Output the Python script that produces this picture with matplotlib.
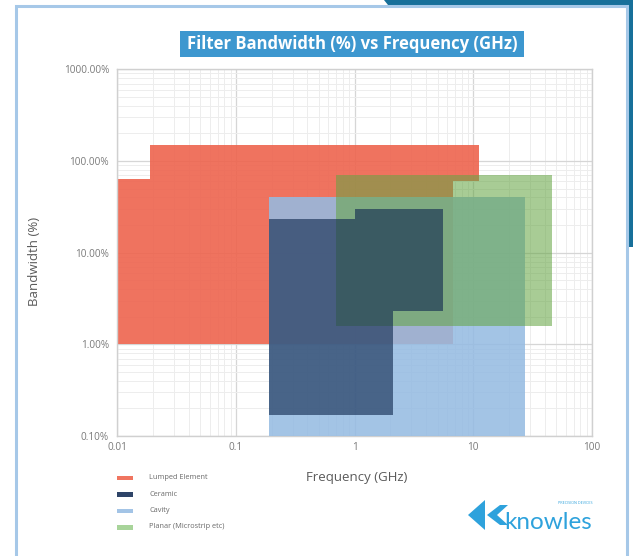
"""Filter bandwidth vs frequency chart (Knowles style), recreated with matplotlib."""
import matplotlib

matplotlib.use("Agg")
import matplotlib.pyplot as plt
import matplotlib.patches as mpatches
from matplotlib.ticker import FixedLocator, LogLocator, NullFormatter

# ---------------------------------------------------------------------------
# Data: outline of each filter technology region (GHz, bandwidth %)
# ---------------------------------------------------------------------------
lumped_freq = [0.01, 0.01, 0.019, 0.019, 11.2, 11.2, 6.8, 6.8]
lumped_bw = [1.0, 63, 63, 148, 148, 60, 60, 1.0]

cavity_freq = [0.19, 0.19, 27, 27]
cavity_bw = [0.1, 40, 40, 0.1]

planar_freq = [0.7, 0.7, 46, 46]
planar_bw = [1.6, 70, 70, 1.6]

ceramic_freq = [0.19, 0.19, 1.0, 1.0, 5.6, 5.6, 2.1, 2.1]
ceramic_bw = [0.17, 23, 23, 30, 30, 2.3, 2.3, 0.17]

x_ticks = [0.01, 0.1, 1, 10, 100]
x_tick_labels = ["0.01", "0.1", "1", "10", "100"]
y_ticks = [0.1, 1, 10, 100, 1000]

legend_names = ["Lumped Element", "Ceramic", "Cavity", "Planar (Microstrip etc)"]
legend_colors = ["#F07560", "#2E4468", "#A3C4E6", "#A8D49A"]

# ---------------------------------------------------------------------------
# Figure
# ---------------------------------------------------------------------------
plt.rcParams["font.family"] = ["Open Sans", "DejaVu Sans"]

W, H = 633, 556
fig = plt.figure(figsize=(W / 100, H / 100), dpi=100)
fig.patch.set_facecolor("white")


def px(x, y):
    """pixel coords (from top-left) -> figure fraction"""
    return x / W, 1 - y / H


def add_patch(p):
    p.set_transform(fig.transFigure)
    fig.patches.append(p)


# --- page frame -------------------------------------------------------------
dark = [px(384, 0), px(633, 0), px(633, 247), px(629, 247), px(629, 4.5), px(388, 4.5)]
add_patch(mpatches.Polygon(dark, closed=True, facecolor="#17709A",
                           edgecolor="none", zorder=0))
add_patch(mpatches.Rectangle(px(16, 570), (627 - 16) / W, (570 - 5.5) / H,
                             facecolor="white", edgecolor="#A6C8E8",
                             linewidth=2.2, zorder=1))

# --- title ------------------------------------------------------------------
add_patch(mpatches.Rectangle(px(180, 57), (524 - 180) / W, 26 / H,
                             facecolor="#3D97CF", edgecolor="none", zorder=3))
fig.text(*px(352, 44), "Filter Bandwidth (%) vs Frequency (GHz)",
         ha="center", va="center", color="white", fontsize=12, fontweight="bold",
         zorder=4)

# --- axes -------------------------------------------------------------------
ax = fig.add_axes([117.3 / W, 1 - 436 / H, (592 - 117.3) / W, (436 - 69.3) / H])
ax.set_zorder(2)
ax.set_xscale("log")
ax.set_yscale("log")
ax.set_xlim(0.01, 100)
ax.set_ylim(0.1, 1000)

# stacking order matters: overlaps mix through the alpha values
ax.fill(lumped_freq, lumped_bw, color="#EE644E", alpha=0.9, lw=0, zorder=2)
ax.fill(cavity_freq, cavity_bw, color="#95BBE2", alpha=0.87, lw=0, zorder=3)
ax.fill(planar_freq, planar_bw, color="#64A543", alpha=0.56, lw=0, zorder=4)
ax.fill(ceramic_freq, ceramic_bw, color="#112A50", alpha=0.625, lw=0, zorder=5)

ax.xaxis.set_major_locator(FixedLocator(x_ticks))
ax.set_xticklabels(x_tick_labels)
ax.yaxis.set_major_locator(FixedLocator(y_ticks))
ax.set_yticklabels([f"{v:.2f}%" for v in y_ticks])
ax.xaxis.set_minor_locator(LogLocator(base=10, subs=range(2, 10)))
ax.yaxis.set_minor_locator(LogLocator(base=10, subs=range(2, 10)))
ax.xaxis.set_minor_formatter(NullFormatter())
ax.yaxis.set_minor_formatter(NullFormatter())

ax.grid(True, which="major", color="#D6D6D6", linewidth=0.9, zorder=0)
ax.grid(True, which="minor", color="#EDEDED", linewidth=0.7, zorder=0)
ax.set_axisbelow(True)
ax.tick_params(which="both", length=0, labelsize=7.2, labelcolor="#7A7A7A")
ax.tick_params(axis="x", pad=4)
ax.tick_params(axis="y", pad=6)
for sp in ax.spines.values():
    sp.set_color("#D0D0D0")
    sp.set_linewidth(1.0)

fig.text(*px(35, 261), "Bandwidth (%)", rotation=90, ha="center", va="center",
         fontsize=9.5, color="#5A5A5A")
fig.text(*px(357, 477), "Frequency (GHz)", ha="center", va="center",
         fontsize=9.5, color="#5A5A5A")

# --- legend -----------------------------------------------------------------
for i, (name, col) in enumerate(zip(legend_names, legend_colors)):
    yy = 477.5 + i * 16.5
    add_patch(mpatches.Rectangle(px(117, yy + 2.5), 16 / W, 4.5 / H,
                                 facecolor=col, edgecolor="none", zorder=3))
    fig.text(*px(149, yy), name, ha="left", va="center", fontsize=5.3,
             color="#6A6A6A", zorder=3)

# --- knowles logo -----------------------------------------------------------
logo_blue = "#2EA2DC"
chev1 = [px(468, 515), px(485, 500), px(485, 530)]
chev2 = [px(487, 515), px(500, 505), px(508, 505), px(497, 515), px(508, 525), px(500, 525)]
for c in (chev1, chev2):
    add_patch(mpatches.Polygon(c, closed=True, facecolor=logo_blue,
                               edgecolor="none", zorder=3))
fig.text(*px(592, 529), "knowles", ha="right", va="baseline", fontsize=17.5,
         color=logo_blue, family=["Lato", "DejaVu Sans"], zorder=3)
fig.text(*px(592, 503.5), "PRECISION DEVICES", ha="right", va="center",
         fontsize=2.7, color=logo_blue, zorder=3)

fig.savefig("out.png", dpi=100, facecolor="white")
